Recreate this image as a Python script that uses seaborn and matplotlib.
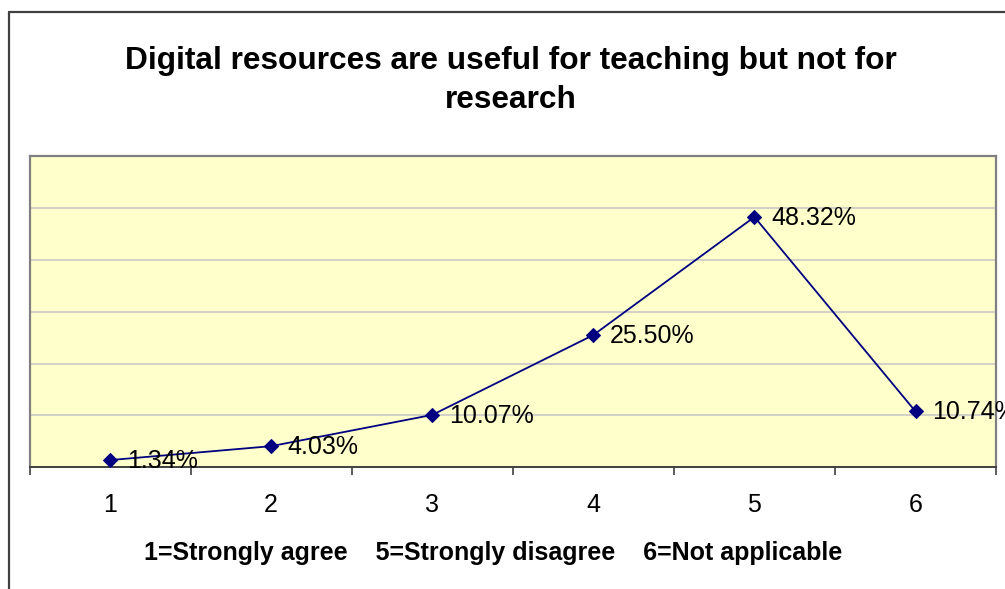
import matplotlib
matplotlib.use("Agg")
import matplotlib.pyplot as plt
from matplotlib.lines import Line2D
from matplotlib.ticker import MultipleLocator, FixedLocator
import seaborn as sns
import pandas as pd

# Survey responses: share of answers per scale point (percent)
categories = [1, 2, 3, 4, 5, 6]
tick_labels = ["1", "2", "3", "4", "5", "6"]
percentages = [1.34, 4.03, 10.07, 25.50, 48.32, 10.74]

title = "Digital resources are useful for teaching but not for\nresearch"
scale_note = "1=Strongly agree    5=Strongly disagree    6=Not applicable"

sns.set_style("white")
plt.rcParams["font.family"] = ["Liberation Sans", "DejaVu Sans"]
plt.rcParams["text.color"] = "black"
plt.rcParams["axes.labelcolor"] = "black"
plt.rcParams["xtick.color"] = "black"

df = pd.DataFrame({"point": categories, "share": percentages})

fig = plt.figure(figsize=(10.05, 5.89), dpi=100)
ax = fig.add_axes([0.0294, 0.2071, 0.9617, 0.5272])
ax.set_facecolor("#FFFFCC")

sns.lineplot(data=df, x="point", y="share", ax=ax, color="#000080",
             linewidth=1.3, marker="D", markersize=7,
             markerfacecolor="#000080", markeredgecolor="#000080", zorder=3)

for x, y in zip(categories, percentages):
    ax.annotate(f"{y:.2f}%", xy=(x, y), xytext=(12, -0.5), textcoords="offset points",
                ha="left", va="center", fontsize=18, color="black",
                annotation_clip=False, zorder=4)

ax.set_xlim(0.5, 6.5)
ax.set_ylim(0, 60)
ax.yaxis.set_major_locator(MultipleLocator(10))
ax.grid(axis="y", color="#C8C8C8", linewidth=1.2)
ax.grid(axis="x", visible=False)
ax.set_yticklabels([])
ax.tick_params(axis="y", length=0)

ax.set_xticks(categories)
ax.set_xticklabels(tick_labels, fontsize=18)
ax.xaxis.set_minor_locator(FixedLocator([c - 0.5 for c in categories] + [6.5]))
ax.tick_params(axis="x", which="major", length=0, pad=18.5)
ax.tick_params(axis="x", which="minor", length=5.5, width=1.2, color="#404040",
               direction="out", bottom=True)

for side in ("left", "top", "right"):
    ax.spines[side].set_color("#808080")
    ax.spines[side].set_linewidth(1.6)
ax.spines["bottom"].set_color("#404040")
ax.spines["bottom"].set_linewidth(1.4)

ax.set_xlabel(scale_note, fontsize=18, fontweight="bold")
ax.xaxis.set_label_coords(0.4796, -0.239)
ax.set_ylabel("")

fig.text(0.508, 0.863, title, ha="center", va="center", fontsize=22.8,
         fontweight="bold", linespacing=1.4)

# Outer chart frame (left and top edges)
fig.add_artist(Line2D([9 / 1005, 9 / 1005], [0, 1 - 12 / 589],
                      transform=fig.transFigure, color="#404040", linewidth=1.6))
fig.add_artist(Line2D([9 / 1005, 1], [1 - 12 / 589, 1 - 12 / 589],
                      transform=fig.transFigure, color="#404040", linewidth=1.6))

fig.savefig("out.png", dpi=100, facecolor="white")
